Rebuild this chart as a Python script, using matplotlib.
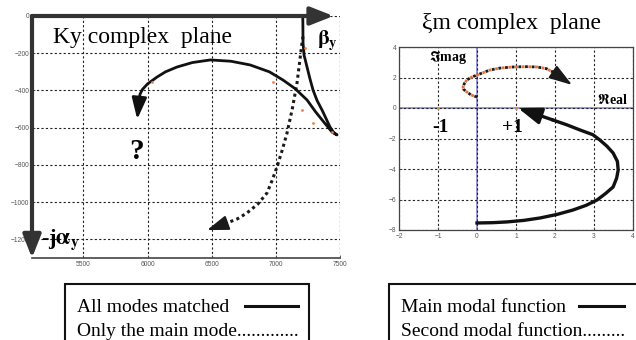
import matplotlib
matplotlib.use('Agg')
import matplotlib.pyplot as plt
from matplotlib.patches import Rectangle
from matplotlib.lines import Line2D

plt.rcParams['font.family'] = ['Liberation Serif', 'DejaVu Serif']
plt.rcParams['mathtext.fontset'] = 'stix'

# ---------------- data: left panel (Ky complex plane) ----------------
ky_all_re = [7210, 7211, 7212, 7220, 7243, 7265, 7290, 7322, 7360, 7392, 7422, 7450, 7477,
             7440, 7380, 7310, 7243, 7150, 7056, 6950, 6800, 6650, 6490, 6350, 6230,
             6140, 6074, 6000, 5960, 5942, 5936]
ky_all_im = [0, -60, -145, -210, -274, -335, -398, -455, -505, -552, -596, -625, -639,
             -625, -575, -515, -451, -390, -344, -300, -263, -243, -236, -250, -274,
             -300, -328, -365, -395, -420, -440]
ky_all_tip = (5920, -555)
ky_main_re = [7212, 7204, 7185, 7165, 7128, 7087, 7050, 7009, 6970, 6931, 6860, 6775, 6700, 6619]
ky_main_im = [-110, -145, -250, -360, -500, -629, -720, -811, -885, -951, -1010, -1058, -1090, -1112]
ky_main_tip = (6464, -1150)
ky_mark_re = [6035, 6978, 7204, 7227, 7290, 7437]
ky_mark_im = [-355, -355, -505, -172, -575, -623]
ky_xticks = [5500, 6000, 6500, 7000, 7500]
ky_yticks = [0, -200, -400, -600, -800, -1000, -1200]

# ---------------- data: right panel (xi_m complex plane) ----------------
xi_main_re = [0, 0.4, 0.77, 1.2, 1.62, 2.05, 2.46, 2.8, 3.08, 3.3, 3.49, 3.58, 3.62, 3.6,
              3.49, 3.33, 3.15, 2.97, 2.64, 2.3, 1.95]
xi_main_im = [-7.54, -7.52, -7.47, -7.37, -7.21, -6.98, -6.69, -6.38, -6.03, -5.6, -5.18,
              -4.6, -4.07, -3.5, -2.95, -2.5, -2.1, -1.75, -1.44, -1.1, -0.79]
xi_main_tip = (1.05, 0.0)
xi_second_re = [0, -0.15, -0.26, -0.34, -0.36, -0.32, -0.26, -0.14, 0, 0.33, 0.6, 0.92,
                1.25, 1.54, 1.78, 1.95]
xi_second_im = [0.72, 0.85, 1.05, 1.22, 1.38, 1.62, 1.84, 2.02, 2.16, 2.49, 2.62, 2.69,
                2.71, 2.69, 2.58, 2.36]
xi_second_tip = (2.44, 1.51)
xi_mark_re = [-1, 1]
xi_mark_im = [0, 0]
xi_xticks = [-2, -1, 0, 1, 2, 3, 4]
xi_yticks = [4, 2, 0, -2, -4, -6, -8]

legend_left = ['All modes matched', 'Only the main mode']
legend_right = ['Main modal function', 'Second modal function']

W, H = 636, 340
fig = plt.figure(figsize=(W / 100, H / 100), dpi=100)

def px_axes(x0, y0, x1, y1):
    return fig.add_axes([x0 / W, 1 - y1 / H, (x1 - x0) / W, (y1 - y0) / H])

def fx(x):
    return x / W

def fy(y):
    return 1 - y / H

tick_kw = dict(labelsize=4.8, labelcolor='#555555', direction='in', length=2.5,
               width=0.6, color='#444444', pad=2)
grid_kw = dict(color='#222222', linestyle=(0, (2, 2)), linewidth=0.8)

# ---------------- left panel ----------------
ax1 = px_axes(32, 16, 340, 258)
ax1.set_xlim(5100, 7500)
ax1.set_ylim(-1300, 0)
ax1.set_xticks(ky_xticks)
ax1.set_yticks(ky_yticks)
ax1.tick_params(**tick_kw)
for lab in ax1.get_xticklabels() + ax1.get_yticklabels():
    lab.set_family('Liberation Sans')
ax1.grid(True, **grid_kw)
ax1.axvline(7500, **grid_kw)
for s in ['top', 'left', 'right']:
    ax1.spines[s].set_visible(False)
ax1.spines['bottom'].set_color('#444444')
ax1.spines['bottom'].set_linewidth(1.2)

# thick arrow axes
ax1.annotate('', xy=(7450, 0), xytext=(5100, 0), annotation_clip=False,
             arrowprops=dict(arrowstyle='-|>,head_length=1.4,head_width=0.55',
                             mutation_scale=10, lw=3, color='#333333', shrinkA=0, shrinkB=0))
ax1.annotate('', xy=(5100, -1300), xytext=(5100, 0), annotation_clip=False,
             arrowprops=dict(arrowstyle='-|>,head_length=1.4,head_width=0.55',
                             mutation_scale=10, lw=3, color='#333333', shrinkA=0, shrinkB=0))

ax1.plot(ky_main_re, ky_main_im, color='#1a1a1a', lw=2.2, linestyle=(0, (1, 1.1)))
ax1.annotate('', xy=ky_main_tip, xytext=(ky_main_re[-1], ky_main_im[-1]),
             arrowprops=dict(arrowstyle='-|>,head_length=1.3,head_width=0.45',
                             mutation_scale=10, lw=1.5, color='#1a1a1a', shrinkA=0, shrinkB=0))
ax1.plot(ky_all_re, ky_all_im, color='#111111', lw=2.0, solid_joinstyle='round')
ax1.annotate('', xy=ky_all_tip, xytext=(ky_all_re[-1], ky_all_im[-1]),
             arrowprops=dict(arrowstyle='-|>,head_length=1.3,head_width=0.45',
                             mutation_scale=10, lw=2.0, color='#111111', shrinkA=0, shrinkB=0))
ax1.scatter(ky_mark_re, ky_mark_im, s=4, color='#f08040', zorder=3, linewidths=0)

ax1.text(5264, -113, 'Ky complex  plane', fontsize=17, va='center', ha='left')
ax1.text(7320, -135, r'$\mathbf{\beta_y}$', fontsize=15, va='center', ha='left')
ax1.text(5918, -730, '?', fontsize=21, fontweight='bold', va='center', ha='center')
ax1.text(5170, -1200, r'-j$\mathbf{\alpha_y}$', fontsize=16, fontweight='bold',
         va='center', ha='left')

# ---------------- right panel ----------------
ax2 = px_axes(399, 47, 633, 230)
ax2.set_xlim(-2, 4)
ax2.set_ylim(-8, 4)
ax2.set_xticks(xi_xticks)
ax2.set_yticks(xi_yticks)
ax2.tick_params(**tick_kw)
for lab in ax2.get_xticklabels() + ax2.get_yticklabels():
    lab.set_family('Liberation Sans')
ax2.grid(True, **grid_kw)
for s in ax2.spines.values():
    s.set_color('#444444')
    s.set_linewidth(0.9)
ax2.axhline(0, color='#7c7cd4', lw=1.1, zorder=1.5)
ax2.axvline(0, color='#7c7cd4', lw=1.1, zorder=1.5)

ax2.plot(xi_second_re, xi_second_im, color='#e8703a', lw=2.0, linestyle=(1.2, (1, 1.4)))
ax2.plot(xi_second_re, xi_second_im, color='#1a1a1a', lw=2.0, linestyle=(0, (1, 1.4)))
ax2.annotate('', xy=xi_second_tip, xytext=(xi_second_re[-1], xi_second_im[-1]),
             arrowprops=dict(arrowstyle='-|>,head_length=1.4,head_width=0.45',
                             mutation_scale=10, lw=1.5, color='#1a1a1a', shrinkA=0, shrinkB=0))
ax2.plot(xi_main_re, xi_main_im, color='#111111', lw=2.4, solid_joinstyle='round')
ax2.annotate('', xy=xi_main_tip, xytext=(xi_main_re[-1], xi_main_im[-1]),
             arrowprops=dict(arrowstyle='-|>,head_length=1.4,head_width=0.5',
                             mutation_scale=10, lw=2.4, color='#111111', shrinkA=0, shrinkB=0))
ax2.scatter(xi_mark_re, xi_mark_im, s=5, color='#f08040', zorder=3, linewidths=0)

ax2.text(-1.22, 3.28, r'$\mathbf{\Im}$mag', fontsize=10, fontweight='bold', va='center',
         ha='left')
ax2.text(3.08, 0.52, r'$\mathbf{\Re}$eal', fontsize=10, fontweight='bold', va='center',
         ha='left')
ax2.text(-0.95, -1.25, '-1', fontsize=14, fontweight='bold', va='center', ha='center')
ax2.text(0.92, -1.25, '+1', fontsize=14, fontweight='bold', va='center', ha='center')

fig.text(fx(512), fy(24), '\u03bem complex  plane', fontsize=17, ha='center', va='center')

# ---------------- legend boxes (text first, line sample after) ----------------
for (bx0, bx1, tx, lx0, lx1, labels, ndots) in [
        (65, 309, 77, 245, 298, legend_left, 13),
        (389, 660, 401, 579, 624, legend_right, 9)]:
    fig.add_artist(Rectangle((fx(bx0), fy(350)), fx(bx1 - bx0), (350 - 284) / H,
                             transform=fig.transFigure, fill=False, edgecolor='#111111',
                             linewidth=1.5))
    fig.text(fx(tx), fy(307), labels[0], fontsize=14, ha='left', va='center')
    fig.text(fx(tx), fy(332), labels[1] + '.' * ndots, fontsize=14, ha='left',
             va='center')
    fig.add_artist(Line2D([fx(lx0), fx(lx1)], [fy(306), fy(306)],
                          transform=fig.transFigure, color='#111111', lw=2.2))

fig.savefig('out.png', dpi=100, facecolor='white')
